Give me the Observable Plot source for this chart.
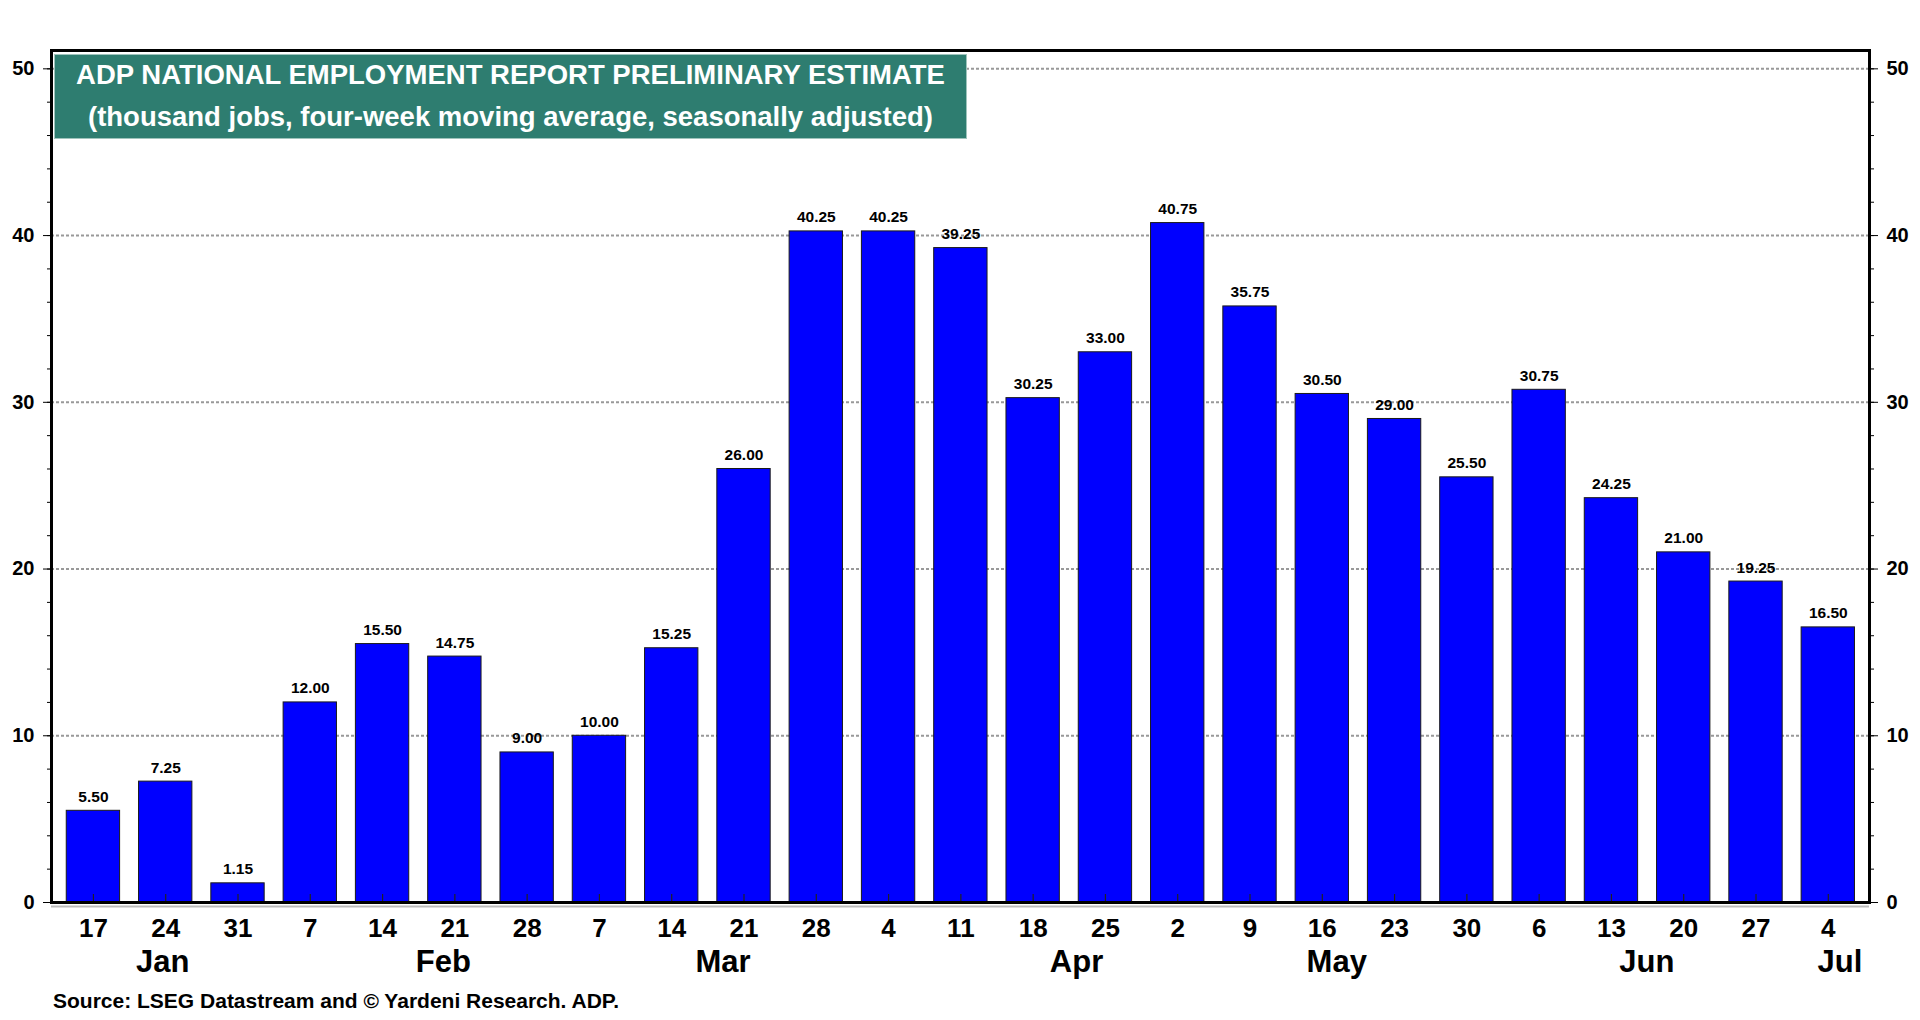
<!DOCTYPE html>
<html>
<head>
<meta charset="utf-8">
<script src="https://cdn.jsdelivr.net/npm/d3@7"></script>
<script src="https://cdn.jsdelivr.net/npm/@observablehq/plot@0.6"></script>
<style>
  html, body { margin: 0; padding: 0; background: #fff; }
  body { font-family: "Liberation Sans", Arial, sans-serif; font-weight: bold; color: #000; }
  #wrap { position: relative; width: 1920px; }
  #title {
    position: absolute; left: 54px; top: 54px; width: 913px; height: 85px;
    background: #2E7D70; color: #fff; text-align: center; font-size: 27.5px;
    box-shadow: inset 0 0 0 1px #9fc4bc;
  }
  #title div { line-height: 42px; white-space: nowrap; }
  #caption { font-size: 21px; line-height: 24px; padding-left: 53px; margin-top: 4px; }
</style>
</head>
<body>
<div id="wrap">
  <div id="chart"></div>
  <div id="title">
    <div>ADP NATIONAL EMPLOYMENT REPORT PRELIMINARY ESTIMATE</div>
    <div>(thousand jobs, four-week moving average, seasonally adjusted)</div>
  </div>
</div>
<div id="caption">Source: LSEG Datastream and © Yardeni Research. ADP.</div>
<script>
// ---- data ----
const weekDays = ["17","24","31","7","14","21","28","7","14","21","28","4","11","18","25","2","9","16","23","30","6","13","20","27","4"];
const values = [5.50, 7.25, 1.15, 12.00, 15.50, 14.75, 9.00, 10.00, 15.25, 26.00, 40.25, 40.25, 39.25, 30.25, 33.00, 40.75, 35.75, 30.50, 29.00, 25.50, 30.75, 24.25, 21.00, 19.25, 16.50];
const monthNames = ["Jan", "Feb", "Mar", "Apr", "May", "Jun", "Jul"];
const monthAt = [0.96, 4.84, 8.71, 13.6, 17.2, 21.49, 24.16]; // position on week-index axis
const yTicks = [0, 10, 20, 30, 40, 50];
const yMinorTicks = [0, 2, 4, 6, 8, 10, 12, 14, 16, 18, 20, 22, 24, 26, 28, 30, 32, 34, 36, 38, 40, 42, 44, 46, 48, 50];

const data = values.map((v, i) => ({i, day: weekDays[i], value: v}));
const months = monthNames.map((m, k) => ({name: m, pos: monthAt[k]}));
const weekIdx = weekDays.map((d, i) => i);

const chart = Plot.plot({
  width: 1920,
  height: 985,
  marginLeft: 51,
  marginRight: 51,
  marginTop: 50,
  marginBottom: 83,
  style: {fontFamily: '"Liberation Sans", Arial, sans-serif', fontWeight: "bold", color: "#000", background: "transparent"},
  x: {domain: [-0.58, 24.57]},
  y: {domain: [0, 51.1]},
  marks: [
    Plot.gridY(yTicks.filter(t => t > 0), {stroke: "#999", strokeOpacity: 1, strokeWidth: 2, strokeDasharray: "3,2"}),
    Plot.rectY(data, {x1: d => d.i - 0.369, x2: d => d.i + 0.369, y: "value", fill: "#0000FF", stroke: "#1a1a1a", strokeWidth: 1}),
    Plot.ruleX(weekIdx, {x: d => d, y1: 0, y2: 0, insetTop: -8, stroke: "#222", strokeWidth: 1.2}),
    Plot.text(data, {x: "i", y: "value", text: d => d3.format(".2f")(d.value), dy: -14, lineAnchor: "middle", fontSize: 15.5, fontWeight: "bold"}),
    Plot.ruleY([0], {stroke: "#bbb", strokeWidth: 2, dy: 4}),
    Plot.frame({stroke: "#000", strokeWidth: 3}),
    Plot.axisY({anchor: "left", ticks: yTicks, tickSize: 8, tickPadding: 9, fontSize: 20, fontWeight: "bold", label: null}),
    Plot.axisY({anchor: "right", ticks: yTicks, tickSize: 8, tickPadding: 9, fontSize: 20, fontWeight: "bold", label: null}),
    Plot.axisY({anchor: "left", ticks: yMinorTicks, tickSize: 4, tickFormat: () => "", label: null}),
    Plot.axisY({anchor: "right", ticks: yMinorTicks, tickSize: 4, tickFormat: () => "", label: null}),
    Plot.axisX({anchor: "bottom", ticks: weekIdx, tickFormat: i => weekDays[i], tickSize: 0, tickPadding: 16, fontSize: 26, fontWeight: "bold", label: null}),
    Plot.text(months, {x: "pos", y: 0, text: "name", dy: 60, lineAnchor: "middle", fontSize: 31, fontWeight: "bold"})
  ]
});
document.getElementById("chart").appendChild(chart);
</script>
</body>
</html>
